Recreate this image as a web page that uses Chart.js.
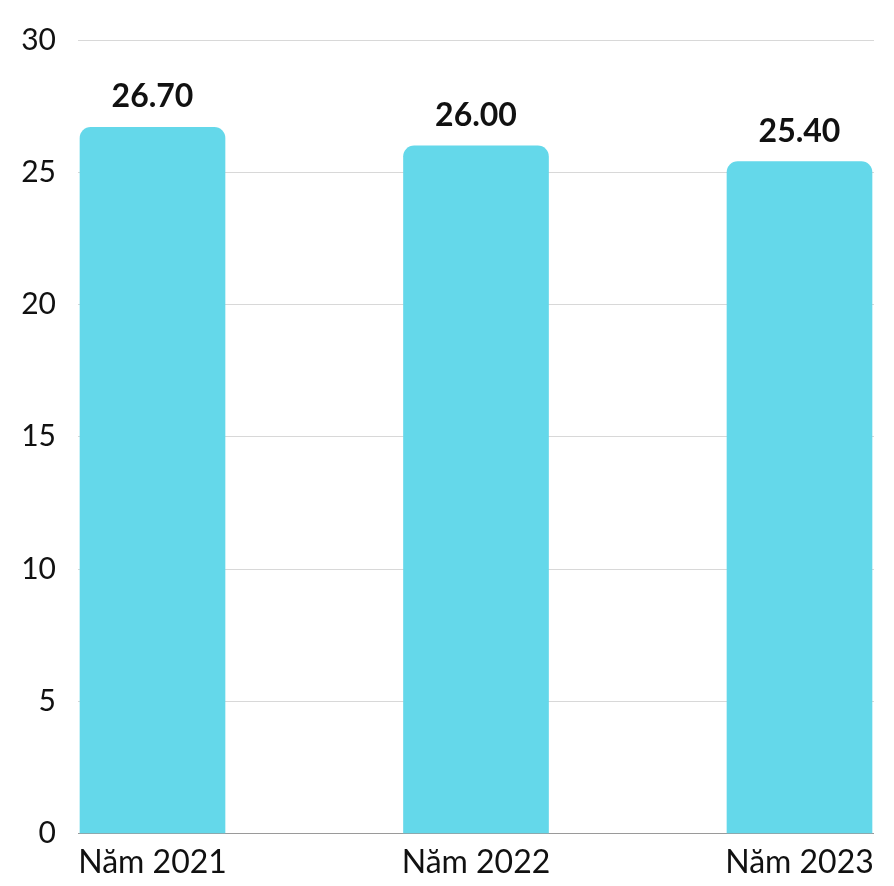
<!DOCTYPE html>
<html lang="vi">
<head>
<meta charset="utf-8">
<title>Biểu đồ</title>
<script src="https://cdn.jsdelivr.net/npm/chart.js@4.4.0/dist/chart.umd.min.js"></script>
<style>
  html, body { margin: 0; padding: 0; background: #fff; }
  #wrap { width: 894px; height: 886px; }
</style>
</head>
<body>
<div id="wrap"><canvas id="chart"></canvas></div>
<script>
// data
const categories = ["Năm 2021", "Năm 2022", "Năm 2023"];
const values = [26.7, 26.0, 25.4];
const yTicks = [0, 5, 10, 15, 20, 25, 30];

const FONT = "Lato, 'Open Sans', sans-serif";

// draw value above each bar
const valueLabels = {
  id: "valueLabels",
  afterDatasetsDraw(chart) {
    const ctx = chart.ctx;
    const meta = chart.getDatasetMeta(0);
    ctx.save();
    ctx.font = "bold 32px " + FONT;
    ctx.fillStyle = "#111";
    ctx.textAlign = "center";
    ctx.textBaseline = "alphabetic";
    meta.data.forEach((bar, i) => {
      ctx.fillText(values[i].toFixed(2), bar.x, bar.y - 20);
    });
    ctx.restore();
  },
};

new Chart(document.getElementById("chart"), {
  type: "bar",
  data: {
    datasets: [
      {
        data: values.map((v, i) => ({ x: i, y: v })),
        backgroundColor: "#64d8ea",
        borderRadius: { topLeft: 11, topRight: 11 },
        borderSkipped: "bottom",
        barThickness: 145,
      },
    ],
  },
  options: {
    responsive: true,
    maintainAspectRatio: false,
    devicePixelRatio: 1,
    animation: false,
    layout: { padding: { top: 20, right: 20, bottom: 2, left: 0 } },
    plugins: { legend: { display: false }, tooltip: { enabled: false } },
    scales: {
      x: {
        type: "linear",
        offset: false,
        min: -0.2303,
        max: 2.2303,
        afterBuildTicks: (axis) => {
          axis.ticks = categories.map((c, i) => ({ value: i }));
        },
        ticks: {
          callback: (v) => categories[v],
          font: { family: FONT, size: 32 },
          color: "#111",
          padding: 2,
          maxRotation: 0,
          autoSkip: false,
        },
        grid: { display: false },
        border: { display: false },
      },
      y: {
        min: 0,
        max: 30,
        afterBuildTicks: (axis) => {
          axis.ticks = yTicks.map((v) => ({ value: v }));
        },
        afterFit: (axis) => {
          axis.width = 78;
        },
        ticks: {
          font: { family: FONT, size: 30 },
          color: "#111",
          padding: 22,
        },
        grid: {
          drawTicks: false,
          color: (c) => (c.tick && c.tick.value === 0 ? "#9a9a9a" : "#d8d8d8"),
          lineWidth: 1,
        },
        border: { display: false },
      },
    },
  },
  plugins: [valueLabels],
});
</script>
</body>
</html>
